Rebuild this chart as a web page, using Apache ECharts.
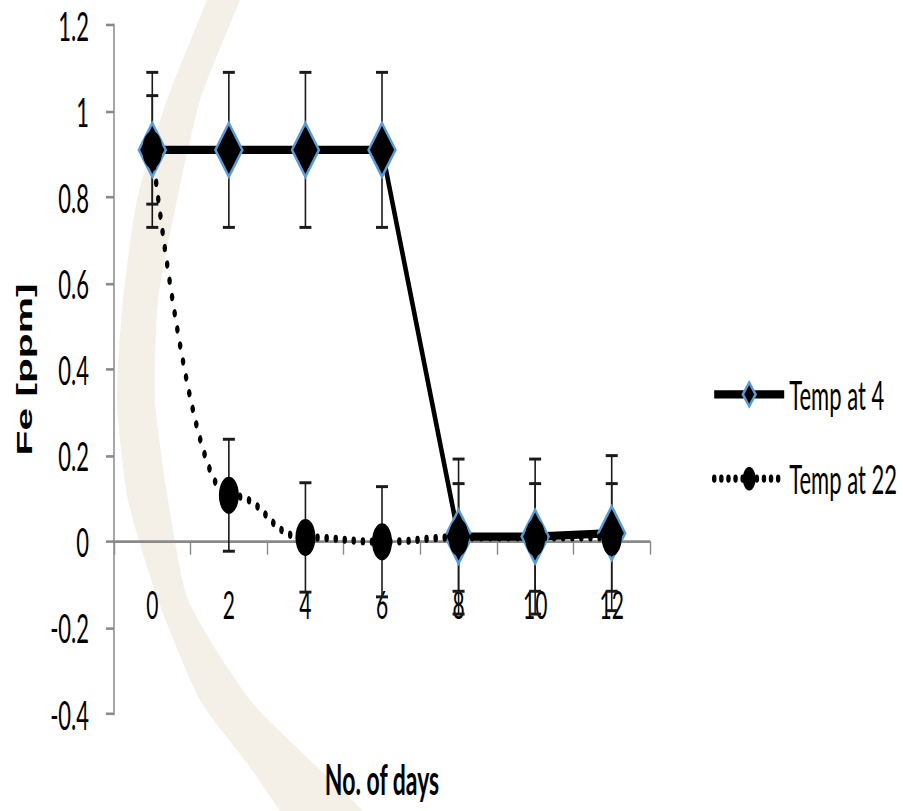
<!DOCTYPE html>
<html>
<head>
<meta charset="utf-8">
<title>Fe [ppm] vs No. of days</title>
<script src="https://cdn.jsdelivr.net/npm/echarts@6.0.0/dist/echarts.min.js"></script>
<style>
  html, body { margin: 0; padding: 0; background: #ffffff; overflow: hidden; }
  #stage { width: 903px; height: 811px; overflow: hidden; position: relative; }
  /* chart is laid out at a compressed height and stretched vertically */
  #chart { width: 903px; height: 438px; transform-origin: 0 0; transform: scaleY(1.8516); }
</style>
</head>
<body>
<div id="stage"><div id="chart"></div></div>
<script>
// ---- data ----
const days = ['0', '2', '4', '6', '8', '10', '12'];
const temp4 = [0.91, 0.91, 0.91, 0.91, 0.012, 0.012, 0.02];
const temp4Err = [0.18, 0.18, 0.18, 0.18, 0.18, 0.18, 0.18];
const temp22 = [0.91, 0.108, 0.01, 0.0, 0.01, 0.01, 0.01];
const temp22Err = [0.126, 0.13, 0.127, 0.128, 0.125, 0.125, 0.125];
const seriesNames = ['Temp at 4', 'Temp at 22'];
const yMin = -0.4, yMax = 1.2, yStep = 0.2;

// ---- layout helpers ----
const STRETCH = 811 / 438;           // vertical stretch applied by CSS
const sy = v => v / STRETCH;         // page y -> chart y

// pale decorative arc in the background (outer edge then inner edge)
const arcOuter = [[215, -20], [207, 0], [167, 100], [137, 200], [123, 300], [117, 400],
                  [128, 500], [158, 600], [200, 700], [250, 767], [280, 811], [292, 830]];
const arcInner = [[375, 830], [363, 811], [317, 767], [250, 700], [188, 600], [168, 500],
                  [155, 400], [158, 300], [177, 200], [200, 100], [240, 0], [248, -20]];
const arcPoints = arcOuter.concat(arcInner).map(p => [p[0], sy(p[1])]);

const chart = echarts.init(document.getElementById('chart'), null, { renderer: 'svg' });

function errorBarSeries(name, values, errs) {
  const data = values.map((v, i) => [i, v - errs[i], v + errs[i]]);
  return {
    type: 'custom',
    name: name + ' error',
    z: 1,
    silent: true,
    encode: { x: 0, y: [1, 2] },
    data: data,
    renderItem: function (params, api) {
      const lo = api.coord([api.value(0), api.value(1)]);
      const hi = api.coord([api.value(0), api.value(2)]);
      const hw = 6;
      const style = { stroke: '#1a1a1a', lineWidth: 1.6, fill: null };
      return {
        type: 'group',
        children: [
          { type: 'line', shape: { x1: hi[0], y1: hi[1], x2: lo[0], y2: lo[1] }, style: style },
          { type: 'line', shape: { x1: hi[0] - hw, y1: hi[1], x2: hi[0] + hw, y2: hi[1] }, style: style },
          { type: 'line', shape: { x1: lo[0] - hw, y1: lo[1], x2: lo[0] + hw, y2: lo[1] }, style: style }
        ]
      };
    }
  };
}

const axisGray = '#8a8a8a';
const labelFont = 'Lato, "Open Sans", sans-serif';
const dotLine = { color: '#000', width: 4.4, type: [0.1, 9], cap: 'round' };

const option = {
  backgroundColor: '#ffffff',
  animation: false,
  graphic: [{
    type: 'polygon',
    z: -10,
    silent: true,
    shape: { points: arcPoints, smooth: 0.2 },
    style: { fill: '#f4efe7' }
  }],
  grid: {
    left: 114, right: 253, top: sy(25), bottom: 438 - sy(714),
    containLabel: false, outerBoundsMode: 'none'
  },
  legend: {
    orient: 'vertical',
    left: 707,
    top: 197,
    itemWidth: 70,
    itemHeight: 16,
    itemGap: 23.5,
    data: [
      { name: seriesNames[0], lineStyle: { color: '#000', width: 4.4 } },
      { name: seriesNames[1], lineStyle: { color: '#000', width: 4.4, type: [0.1, 7], cap: 'round' } }
    ],
    textStyle: { fontFamily: labelFont, fontSize: 22, color: '#000' }
  },
  xAxis: {
    type: 'category',
    data: days,
    boundaryGap: true,
    name: 'No. of days',
    nameLocation: 'middle',
    nameGap: 23,
    nameMoveOverlap: false,
    nameTextStyle: { fontFamily: labelFont, fontWeight: 'bold', fontSize: 23, color: '#000' },
    axisLine: { onZero: true, lineStyle: { color: axisGray, width: 1.4 } },
    axisTick: { show: true, length: 7, lineStyle: { color: axisGray, width: 1.4 } },
    axisLabel: { margin: -70, fontFamily: labelFont, fontSize: 21, color: '#000' },
    splitLine: { show: false }
  },
  yAxis: {
    type: 'value',
    min: yMin,
    max: yMax,
    interval: yStep,
    name: 'Fe [ppm]',
    nameLocation: 'middle',
    nameGap: 79,
    nameTextStyle: { fontFamily: '"Liberation Sans", Arial, sans-serif', fontWeight: 'bold', fontSize: 22, color: '#000' },
    axisLine: { show: true, onZero: false, lineStyle: { color: axisGray, width: 1.5 } },
    axisTick: { show: true, length: 8, lineStyle: { color: axisGray, width: 1.4 } },
    axisLabel: {
      margin: 25,
      fontFamily: labelFont,
      fontSize: 22,
      color: '#000',
      formatter: v => String(+v.toFixed(1))
    },
    splitLine: { show: false }
  },
  series: [
    errorBarSeries(seriesNames[0], temp4, temp4Err),
    errorBarSeries(seriesNames[1], temp22, temp22Err),
    {
      name: seriesNames[0],
      type: 'line',
      z: 3,
      data: temp4,
      symbol: 'diamond',
      symbolSize: [27, 29],
      lineStyle: { color: '#000', width: 4.4 },
      itemStyle: { color: '#000', borderColor: '#5b9bd5', borderWidth: 2 }
    },
    {
      name: seriesNames[1],
      type: 'line',
      z: 4,
      data: temp22,
      smooth: 0.5,
      smoothMonotone: 'x',
      symbol: 'circle',
      symbolSize: 20,
      lineStyle: dotLine,
      itemStyle: { color: '#000', borderWidth: 0 }
    }
  ]
};

chart.setOption(option);
</script>
</body>
</html>
